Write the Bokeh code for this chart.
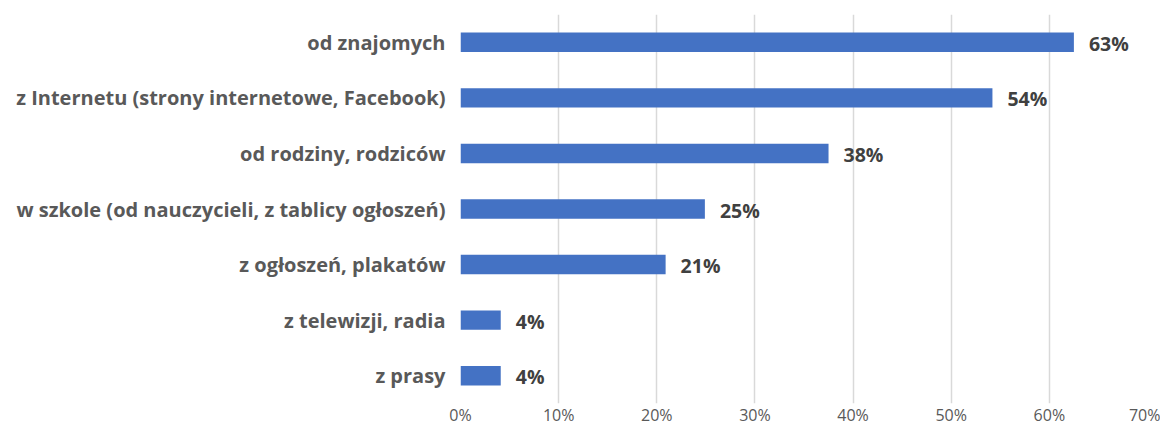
from bokeh.plotting import figure
from bokeh.models import FactorRange, Range1d, ColumnDataSource, FixedTicker, LabelSet
from bokeh.core.properties import value
from bokeh.embed import file_html
from bokeh.resources import INLINE

categories = ["od znajomych",
              "z Internetu (strony internetowe, Facebook)",
              "od rodziny, rodziców",
              "w szkole (od nauczycieli, z tablicy ogłoszeń)",
              "z ogłoszeń, plakatów",
              "z telewizji, radia",
              "z prasy"]
values = [62.5, 54.2, 37.5, 24.9, 20.9, 4.1, 4.1]
value_labels = ["63%", "54%", "38%", "25%", "21%", "4%", "4%"]
x_ticks = [0, 10, 20, 30, 40, 50, 60, 70]
x_tick_labels = ["0%", "10%", "20%", "30%", "40%", "50%", "60%", "70%"]

FONT = "Open Sans"

source = ColumnDataSource(dict(cat=categories, val=values, lab=value_labels))

p = figure(width=1160, height=428, output_backend="svg", toolbar_location=None,
           y_range=FactorRange(factors=list(reversed(categories)), range_padding=0),
           x_range=Range1d(0, 70))
p.min_border_left = 460
p.min_border_right = 13
p.min_border_top = 14
p.min_border_bottom = 24
p.outline_line_color = None

p.hbar(y="cat", right="val", left=0, height=0.35, source=source,
       fill_color="#4472C4", line_color=None)

labels = LabelSet(x="val", y="cat", text="lab", source=source, x_offset=15, y_offset=-1,
                  text_font=value(FONT), text_font_style="bold", text_font_size="19.5px",
                  text_color="#404040", text_baseline="middle", text_align="left")
p.add_layout(labels)

p.xaxis.ticker = FixedTicker(ticks=x_ticks)
p.xaxis.major_label_overrides = {t: l for t, l in zip(x_ticks, x_tick_labels)}
p.xaxis.axis_line_color = None
p.xaxis.major_tick_line_color = None
p.xaxis.major_tick_out = 0
p.xaxis.major_tick_in = 0
p.xaxis.minor_tick_line_color = None
p.xaxis.major_label_text_font = FONT
p.xaxis.major_label_text_font_size = "16px"
p.xaxis.major_label_text_color = "#595959"
p.xaxis.major_label_standoff = 0

p.yaxis.axis_line_color = None
p.yaxis.major_tick_line_color = None
p.yaxis.major_tick_out = 0
p.yaxis.major_tick_in = 0
p.yaxis.minor_tick_line_color = None
p.yaxis.major_label_text_font = FONT
p.yaxis.major_label_text_font_style = "bold"
p.yaxis.major_label_text_font_size = "20px"
p.yaxis.major_label_text_color = "#595959"
p.yaxis.major_label_standoff = 15

p.ygrid.grid_line_color = None
p.xgrid.grid_line_color = "#D9D9D9"
p.xgrid.grid_line_width = 1.5

open("out.html", "w").write(file_html(p, INLINE))
